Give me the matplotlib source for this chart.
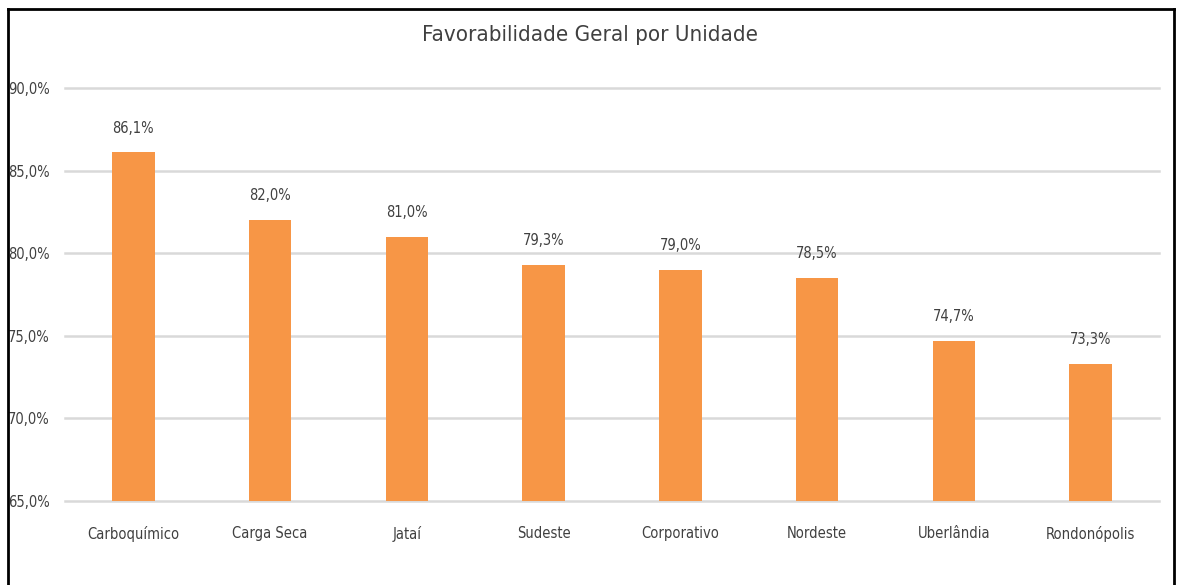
import matplotlib.pyplot as plt
from matplotlib.lines import Line2D

unidades = ['Carboquímico', 'Carga Seca', 'Jataí', 'Sudeste', 'Corporativo',
            'Nordeste', 'Uberlândia', 'Rondonópolis']
favorabilidade = [86.1, 82.0, 81.0, 79.3, 79.0, 78.5, 74.7, 73.3]
yticks = [65, 70, 75, 80, 85, 90]

plt.rcParams['font.family'] = ['DejaVu Sans']
plt.rcParams['font.stretch'] = 'condensed'

txt = '#404040'
fig = plt.figure(figsize=(11.78, 5.85), dpi=100)
ax = fig.add_axes([65 / 1178, 1 - 501 / 585, (1159 - 65) / 1178, (501 - 88) / 585])

x = range(len(unidades))
bars = ax.bar(x, favorabilidade, width=0.31, color='#F79646', zorder=3)
for b, v in zip(bars, favorabilidade):
    ax.annotate(f'{v:.1f}%'.replace('.', ','), (b.get_x() + b.get_width() / 2, v),
                xytext=(0, 12), textcoords='offset points', ha='center', va='bottom',
                fontsize=10.5, color=txt)

ax.set_ylim(65, 90)
ax.set_xlim(-0.5, len(unidades) - 0.5)
ax.set_yticks(yticks)
ax.set_yticklabels([f'{t:.1f}%'.replace('.', ',') for t in yticks], fontsize=10.5, color=txt)
ax.set_xticks(list(x))
ax.set_xticklabels(unidades, fontsize=10.5, color=txt)
ax.tick_params(axis='both', length=0)
ax.tick_params(axis='y', pad=11)
ax.tick_params(axis='x', pad=18)
ax.grid(axis='y', color='#D9D9D9', linewidth=1.8, zorder=0)
for gl in ax.get_ygridlines():
    gl.set_clip_on(False)
for s in ax.spines.values():
    s.set_visible(False)

fig.text(590 / 1178, 1 - 35 / 585, 'Favorabilidade Geral por Unidade', ha='center',
         va='center', fontsize=16, color=txt)

# moldura (sem linha inferior)
l, r, t = 8 / 1178, 1174 / 1178, 1 - 9 / 585
for xs, ys in [([l, l], [0, t]), ([l, r], [t, t]), ([r, r], [t, 0])]:
    fig.add_artist(Line2D(xs, ys, color='black', linewidth=2, transform=fig.transFigure))

fig.savefig('out.png', dpi=100)
